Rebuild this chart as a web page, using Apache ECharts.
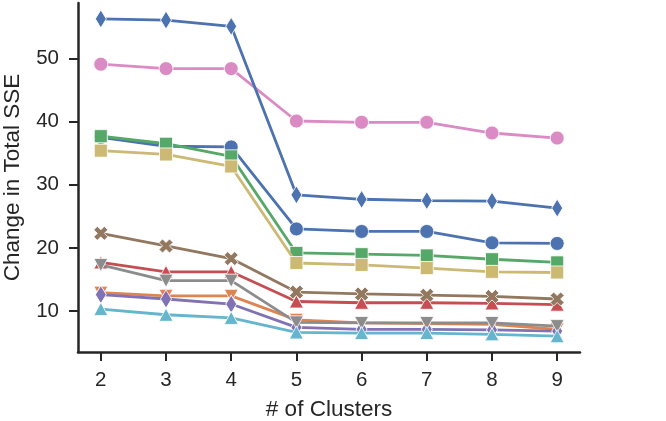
<!DOCTYPE html>
<html>
<head>
<meta charset="utf-8">
<script src="https://cdn.jsdelivr.net/npm/echarts@6/dist/echarts.min.js"></script>
<style>html,body{margin:0;padding:0;background:#fff}#c{width:666px;height:421px}</style>
</head>
<body>
<div id="c"></div>
<script>
const clusters = [2, 3, 4, 5, 6, 7, 8, 9];
const yTicks = [10, 20, 30, 40, 50];
const s0 = [37.5, 36.1, 36.0, 23.0, 22.6, 22.6, 20.8, 20.7];
const s1 = [12.9, 12.4, 12.4, 8.6, 8.1, 8.0, 7.9, 7.1];
const s2 = [37.7, 36.5, 34.5, 19.2, 19.0, 18.8, 18.2, 17.7];
const s3 = [17.7, 16.2, 16.2, 11.5, 11.3, 11.3, 11.2, 11.0];
const s4 = [12.6, 11.9, 11.1, 7.4, 7.1, 7.1, 7.0, 6.8];
const s5 = [22.3, 20.3, 18.3, 13.0, 12.7, 12.5, 12.3, 11.9];
const s6 = [49.1, 48.4, 48.4, 40.1, 39.9, 39.9, 38.2, 37.4];
const s7 = [17.3, 14.8, 14.8, 8.2, 8.1, 8.1, 8.1, 7.6];
const s8 = [35.4, 34.8, 32.9, 17.6, 17.3, 16.8, 16.2, 16.1];
const s9 = [10.3, 9.4, 8.9, 6.6, 6.5, 6.5, 6.3, 6.0];
const s10 = [56.3, 56.1, 55.1, 28.4, 27.7, 27.5, 27.4, 26.3];
const allSeries = [s0, s1, s2, s3, s4, s5, s6, s7, s8, s9, s10];
const colors = ['#4C72B0', '#DD8452', '#55A868', '#C44E52', '#8172B3', '#937860', '#DA8BC3', '#8C8C8C', '#CCB974', '#64B5CD', '#4C72B0'];
const markerKinds = ['o', 'v', 's', '^', 'd', 'X'];

const XPATH = 'path://M25 0L50 25L75 0L100 25L75 50L100 75L75 100L50 75L25 100L0 75L25 50L0 25Z';
function markerStyle(k) {
  switch (k) {
    case 'o': return { symbol: 'circle', symbolSize: 14, symbolRotate: 0 };
    case 'v': return { symbol: 'triangle', symbolSize: [14, 13], symbolRotate: 180 };
    case 's': return { symbol: 'rect', symbolSize: 13, symbolRotate: 0 };
    case '^': return { symbol: 'triangle', symbolSize: [14, 13], symbolRotate: 0 };
    case 'd': return { symbol: 'diamond', symbolSize: [11, 18], symbolRotate: 0 };
    case 'X': return { symbol: XPATH, symbolSize: 14, symbolRotate: 0 };
  }
}
const TXT = '#262626';
const FONT = 'Liberation Sans, Arial, sans-serif';
const series = allSeries.map((vals, i) => {
  const m = markerStyle(markerKinds[i % markerKinds.length]);
  return Object.assign({
    type: 'line',
    data: clusters.map((c, j) => [c, vals[j]]),
    showSymbol: true,
    showAllSymbol: true,
    lineStyle: { color: colors[i], width: 2.8 },
    itemStyle: { color: colors[i], borderColor: '#ffffff', borderWidth: 0.8 },
    emphasis: { disabled: true },
    z: 2 + i * 0.01
  }, m);
});

const chart = echarts.init(document.getElementById('c'), null, { renderer: 'canvas' });
chart.setOption({
  animation: false,
  backgroundColor: '#ffffff',
  grid: { left: 78, right: 86, top: 3, bottom: 69, containLabel: false, outerBoundsMode: 'none' },
  xAxis: {
    type: 'value', min: 1.65, max: 9.35,
    name: '# of Clusters', nameLocation: 'middle', nameGap: 46,
    nameTextStyle: { color: TXT, fontSize: 22.5, fontFamily: FONT },
    axisLine: { show: true, onZero: false, lineStyle: { color: TXT, width: 2.5 } },
    axisTick: { show: true, length: 9, lineStyle: { color: TXT, width: 2 }, customValues: clusters },
    axisLabel: { color: TXT, fontSize: 20.5, fontFamily: FONT, margin: 18, customValues: clusters },
    splitLine: { show: false }
  },
  yAxis: {
    type: 'value', min: 3.5, max: 58.8,
    name: 'Change in Total SSE', nameLocation: 'middle', nameGap: 54, nameRotate: 90,
    nameTextStyle: { color: TXT, fontSize: 22.5, fontFamily: FONT },
    axisLine: { show: true, onZero: false, lineStyle: { color: TXT, width: 2.5 } },
    axisTick: { show: true, length: 9, lineStyle: { color: TXT, width: 2 }, customValues: yTicks },
    axisLabel: { color: TXT, fontSize: 20.5, fontFamily: FONT, margin: 19, customValues: yTicks },
    splitLine: { show: false }
  },
  series: series
});
</script>
</body>
</html>
